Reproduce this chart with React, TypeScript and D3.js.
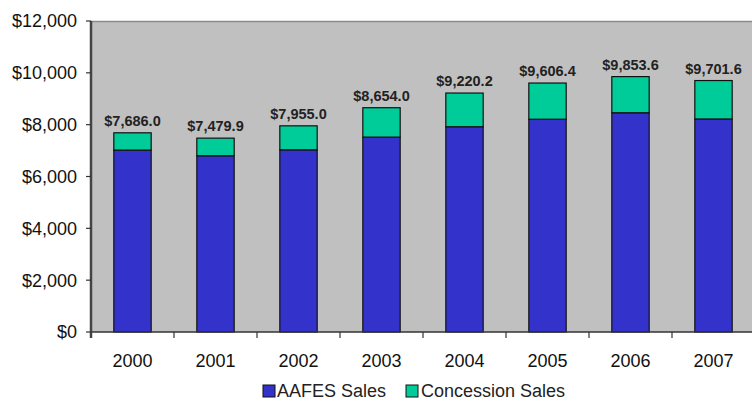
import React from "react";
import * as d3 from "d3";

const years = ["2000", "2001", "2002", "2003", "2004", "2005", "2006", "2007"];
const aafesSales = [7020, 6800, 7030, 7520, 7920, 8210, 8460, 8220];
const concessionSales = [666, 680, 925, 1134, 1300, 1396, 1394, 1482];
const totalLabels = ["$7,686.0", "$7,479.9", "$7,955.0", "$8,654.0", "$9,220.2", "$9,606.4", "$9,853.6", "$9,701.6"];
const yTicks = [0, 2000, 4000, 6000, 8000, 10000, 12000];
const seriesNames = ["AAFES Sales", "Concession Sales"];
const seriesColors = ["#3333CC", "#00CC99"];

const W = 752;
const H = 400;
const left = 91;
const top = 21;
const bottom = 332;
const band = 83;
const font = "Arial, 'Liberation Sans', sans-serif";

export default function App() {
  const x = d3.scaleBand<string>().domain(years).range([left, left + band * years.length]).padding(0);
  const y = d3.scaleLinear().domain([0, 12000]).range([bottom, top]);
  const bw = x.bandwidth() * 0.45;
  const fmt = d3.format("$,");

  return (
    <div style={{ position: "absolute", left: 0, top: 0 }}>
      <svg width={W} height={H} style={{ display: "block", background: "#fff" }}>
        <rect x={left} y={top} width={W - left + 5} height={bottom - top} fill="#C0C0C0" />
        <line x1={left} x2={W} y1={top + 0.5} y2={top + 0.5} stroke="#8a8a8a" strokeWidth={1.5} />
        {years.map((yr, i) => {
          const cx = (x(yr) as number) + x.bandwidth() / 2;
          const a = aafesSales[i];
          const c = concessionSales[i];
          return (
            <g key={yr}>
              <rect x={cx - bw / 2} y={y(a)} width={bw} height={y(0) - y(a)} fill={seriesColors[0]} stroke="#111" strokeWidth={1.2} />
              <rect x={cx - bw / 2} y={y(a + c)} width={bw} height={y(a) - y(a + c)} fill={seriesColors[1]} stroke="#111" strokeWidth={1.2} />
              <text x={cx} y={y(a + c) - 7} textAnchor="middle" fontFamily={font} fontWeight="bold" fontSize={14.5} fill="#222">
                {totalLabels[i]}
              </text>
              <text x={cx} y={367} textAnchor="middle" fontFamily={font} fontSize={18} fill="#111">
                {yr}
              </text>
            </g>
          );
        })}
        {years.slice(1).map((yr) => (
          <line key={"xt" + yr} x1={x(yr) as number} x2={x(yr) as number} y1={bottom} y2={bottom + 6} stroke="#333" strokeWidth={1.2} />
        ))}
        <line x1={left} x2={W} y1={bottom} y2={bottom} stroke="#333" strokeWidth={1.5} />
        <line x1={left} x2={left} y1={top} y2={bottom + 6} stroke="#444" strokeWidth={2.5} />
        {yTicks.map((t) => (
          <g key={"yt" + t}>
            <line x1={left - 5} x2={left} y1={y(t)} y2={y(t)} stroke="#333" strokeWidth={1.2} />
            <text x={77} y={y(t)} dy="0.36em" textAnchor="end" fontFamily={font} fontSize={18} fill="#111">
              {fmt(t)}
            </text>
          </g>
        ))}
        <g fontFamily={font} fontSize={18} fill="#222">
          <rect x={263} y={385} width={12} height={12} fill={seriesColors[0]} stroke="#111" strokeWidth={1} />
          <text x={277} y={397}>{seriesNames[0]}</text>
          <rect x={406} y={385} width={12} height={12} fill={seriesColors[1]} stroke="#111" strokeWidth={1} />
          <text x={421} y={397}>{seriesNames[1]}</text>
        </g>
      </svg>
    </div>
  );
}
